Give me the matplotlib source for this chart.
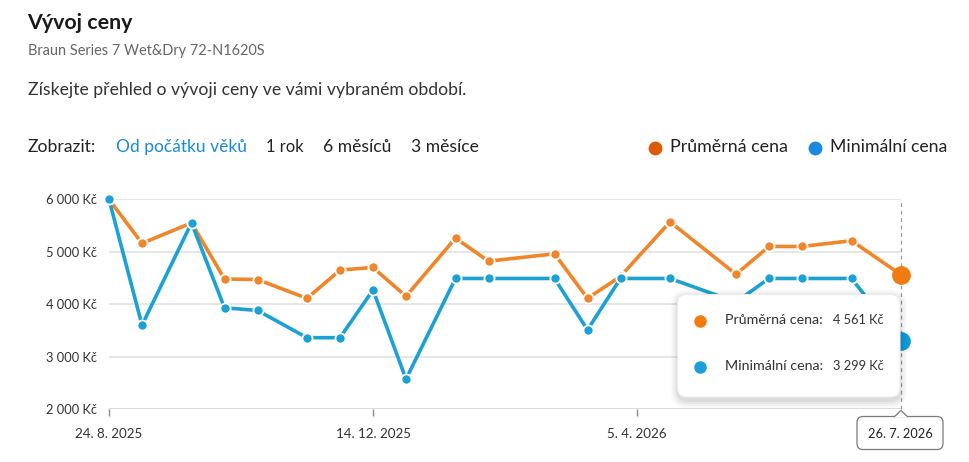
import matplotlib
matplotlib.use("Agg")
import matplotlib.pyplot as plt
import matplotlib.dates as mdates
from matplotlib.patches import FancyBboxPatch, Polygon
from matplotlib.lines import Line2D
import pandas as pd

# ---------------- data ----------------
dates = ["2025-08-24", "2025-09-07", "2025-09-28", "2025-10-12", "2025-10-26",
         "2025-11-16", "2025-11-30", "2025-12-14", "2025-12-28", "2026-01-18",
         "2026-02-01", "2026-03-01", "2026-03-15", "2026-03-29", "2026-04-19",
         "2026-05-17", "2026-05-31", "2026-06-14", "2026-07-05", "2026-07-26"]
avg_price = [6000, 5160, 5550, 4480, 4470, 4110, 4650, 4700, 4150, 5260,
             4820, 4960, 4110, 4530, 5570, 4570, 5100, 5100, 5210, 4561]
min_price = [6000, 3600, 5550, 3930, 3880, 3360, 3360, 4270, 2570, 4490,
             4490, 4490, 3510, 4490, 4490, 4040, 4490, 4490, 4490, 3299]
tick_dates = ["2025-08-24", "2025-12-14", "2026-04-05"]
tick_labels = ["24. 8. 2025", "14. 12. 2025", "5. 4. 2026"]
y_ticks = [2000, 3000, 4000, 5000, 6000]
hover_label = "26. 7. 2026"
series_names = ["Průměrná cena", "Minimální cena"]
range_options = ["Od počátku věků", "1 rok", "6 měsíců", "3 měsíce"]

W, H = 970, 462
FONT = ["Lato", "DejaVu Sans"]
plt.rcParams["font.family"] = FONT

C_ORANGE = "#f0852a"
C_BLUE = "#1ba1d6"
C_LEG_OR = "#dd5a0b"
C_LEG_BL = "#1a8ae0"
C_TEXT = "#222222"

fig = plt.figure(figsize=(W / 100, H / 100), dpi=100)
fig.patch.set_facecolor("white")
renderer = fig.canvas.get_renderer()


def fx(x):
    return x / W


def fy(y):
    return 1 - y / H


def fit(t, target_w):
    bb = t.get_window_extent(renderer)
    t.set_fontsize(t.get_fontsize() * target_w / bb.width)
    return t


# ---------------- header ----------------
t = fig.text(fx(27.5), fy(23), "Vývoj ceny", fontsize=15, fontweight="bold",
             color="#1a1a1a", va="center", ha="left")
fit(t, 106)
t = fig.text(fx(28), fy(51), "Braun Series 7 Wet&Dry 72-N1620S", fontsize=10,
             color="#666666", va="center", ha="left")
fit(t, 237)
t = fig.text(fx(28), fy(90), "Získejte přehled o vývoji ceny ve vámi vybraném období.",
             fontsize=12, color="#333333", va="center", ha="left")
fit(t, 438)

t = fig.text(fx(28), fy(147), "Zobrazit:", fontsize=12, color=C_TEXT,
             va="center", ha="left")
fit(t, 68)
opt_x = [116.5, 266.5, 323.5, 411.5]
opt_w = [130, 37.5, 68, 67.5]
for i, (lab, x0, w) in enumerate(zip(range_options, opt_x, opt_w)):
    t = fig.text(fx(x0), fy(147), lab, fontsize=12,
                 color="#1a8ad4" if i == 0 else C_TEXT, va="center", ha="left")
    fit(t, w)

# legend
for cx, col, lab, tx, tw in [(655, C_LEG_OR, series_names[0], 670, 118),
                             (815, C_LEG_BL, series_names[1], 830, 117)]:
    fig.add_artist(Line2D([fx(cx)], [fy(147.5)], marker="o", markersize=10,
                          color=col, markeredgewidth=0, transform=fig.transFigure))
    t = fig.text(fx(tx), fy(147), lab, fontsize=12, color=C_TEXT,
                 va="center", ha="left")
    fit(t, tw)

# ---------------- axes ----------------
x_left, x_right, y_top, y_bot = 109, 901, 199.3, 409
ax = fig.add_axes([fx(x_left), fy(y_bot), (x_right - x_left) / W, (y_bot - y_top) / H])
ax.set_facecolor("none")
xd = pd.to_datetime(dates)
ax.set_xlim(xd[0], xd[-1])
ax.set_ylim(2000, 6000)
for s in ax.spines.values():
    s.set_visible(False)

for v in y_ticks:
    ax.axhline(v, color="#d8d8d8" if v == 2000 else "#e4e4e4",
               lw=1.3, zorder=0)

ax.set_yticks(y_ticks)
ax.set_yticklabels([f"{v:,}".replace(",", " ") + " Kč" for v in y_ticks])
ax.tick_params(axis="y", length=0, pad=8.8, labelsize=9.3, labelcolor="#333333")

ax.set_xticks(pd.to_datetime(tick_dates))
ax.set_xticklabels(tick_labels)
ax.tick_params(axis="x", length=5, width=1, color="#8a8a8a", pad=8.5,
               labelsize=9.6, labelcolor="#333333")
for lab in ax.get_yticklabels() + ax.get_xticklabels():
    lab.set_family(FONT)

ax.plot(xd, avg_price, color=C_ORANGE, lw=2.6, marker="o", markersize=7.3,
        markerfacecolor=C_ORANGE, markeredgecolor="white", markeredgewidth=1.3,
        clip_on=False, zorder=3, solid_capstyle="round")
ax.plot(xd, min_price, color=C_BLUE, lw=2.6, marker="o", markersize=7.3,
        markerfacecolor=C_BLUE, markeredgecolor="white", markeredgewidth=1.3,
        clip_on=False, zorder=4, solid_capstyle="round")
# highlighted last points
ax.plot([xd[-1]], [avg_price[-1]], marker="o", markersize=13.5, color="#ef7c10",
        markeredgewidth=0, clip_on=False, zorder=6)
ax.plot([xd[-1]], [min_price[-1]], marker="o", markersize=13.5, color="#0f9bd6",
        markeredgewidth=0, clip_on=False, zorder=5)

# hover line
ax.axvline(xd[-1], ymin=0, ymax=1, color="#9a9a9a", lw=0.9, ls=(0, (3, 3)),
           zorder=2, clip_on=False)

# ---------------- tooltip ----------------
tx0, tx1, ty0, ty1 = 677.5, 900, 294.5, 397
for k, a in [(8, 0.02), (6, 0.03), (4, 0.04), (2, 0.05)]:
    sh = FancyBboxPatch((fx(tx0 - k + 1), fy(ty1 + k + 3)),
                        (tx1 - tx0 + 2 * k - 2) / W, (ty1 - ty0 + 2 * k) / H,
                        boxstyle=f"round,pad=0,rounding_size={(9 + k) / W}",
                        transform=fig.transFigure, facecolor="#000000", alpha=a,
                        edgecolor="none", zorder=20, mutation_aspect=W / H)
    fig.add_artist(sh)
box = FancyBboxPatch((fx(tx0), fy(ty1)), (tx1 - tx0) / W, (ty1 - ty0) / H,
                     boxstyle=f"round,pad=0,rounding_size={9 / W}",
                     transform=fig.transFigure, facecolor="white",
                     edgecolor="#ececec", lw=0.8, zorder=21, mutation_aspect=W / H)
fig.add_artist(box)

tip_rows = [(320.5, "#f47c0e", series_names[0], avg_price[-1]),
            (366.5, "#1a9fd6", series_names[1], min_price[-1])]
for yy, col, lab, val in tip_rows:
    fig.add_artist(Line2D([fx(700)], [fy(yy)], marker="o", markersize=9,
                          color=col, markeredgewidth=0, transform=fig.transFigure,
                          zorder=22))
    t = fig.text(fx(725.5), fy(yy), lab + ":", fontsize=10.5, color="#333333",
                 va="center", ha="left", zorder=22)
    fit(t, 98.5 if lab == series_names[0] else 99)
    t = fig.text(fx(833.5), fy(yy), f"{val:,}".replace(",", " ") + " Kč",
                 fontsize=10.5, color="#333333", va="center", ha="left", zorder=22)
    fit(t, 51)

# date label box
bx0, bx1, by0, by1 = 857, 943, 416.5, 449.5
lab_box = FancyBboxPatch((fx(bx0), fy(by1)), (bx1 - bx0) / W, (by1 - by0) / H,
                         boxstyle=f"round,pad=0,rounding_size={6 / W}",
                         transform=fig.transFigure, facecolor="white",
                         edgecolor="#7a7a7a", lw=0.9, zorder=21, mutation_aspect=W / H)
fig.add_artist(lab_box)
tri = Polygon([(fx(894), fy(by0 + 0.6)), (fx(901), fy(410.5)), (fx(908), fy(by0 + 0.6))],
              closed=False, transform=fig.transFigure, facecolor="white",
              edgecolor="#7a7a7a", lw=0.9, zorder=22)
fig.add_artist(tri)
t = fig.text(fx(900), fy(433.5), hover_label, fontsize=10.5, color="#222222",
             va="center", ha="center", zorder=23)
fit(t, 65)

fig.savefig("out.png", dpi=100, facecolor="white")
